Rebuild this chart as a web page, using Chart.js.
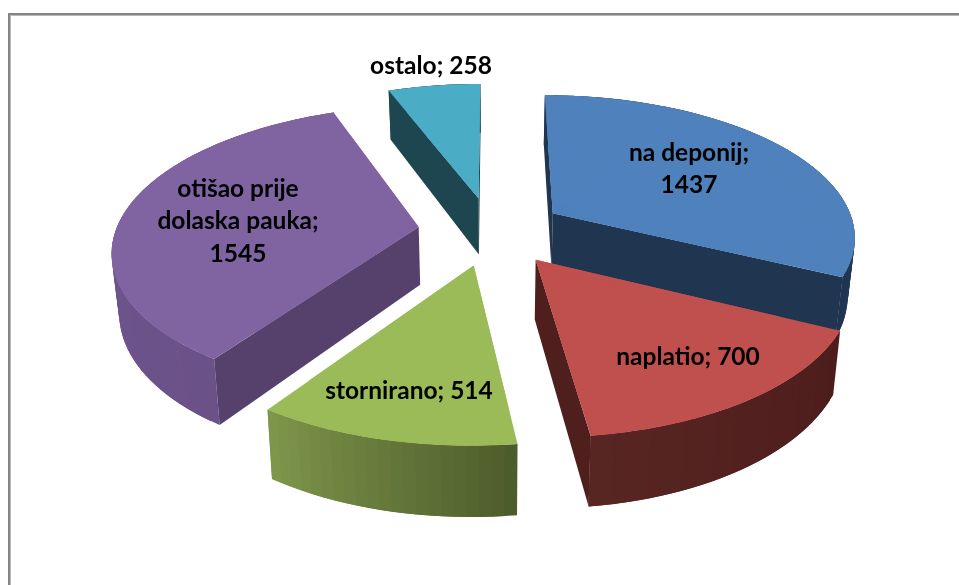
<!DOCTYPE html>
<html lang="hr"><head>
<meta charset="utf-8">
<title>Pie</title>
<script src="https://cdn.jsdelivr.net/npm/chart.js@4.4.3/dist/chart.umd.min.js"></script>
<style>
  *{box-sizing:border-box;margin:0;padding:0}
  html,body{width:959px;height:585px;overflow:hidden;background:#fff}
  #frame{position:absolute;left:8px;top:13px;width:1000px;height:700px;border-top:2px solid #858585;border-left:2px solid #858585}
  #frame div{width:100%;height:100%;border-top:1px solid #b8b8b8;border-left:1px solid #b8b8b8}
  canvas{position:absolute;left:0;top:0}
</style>
</head><body>
<div id="frame"><div></div></div>
<canvas id="c" width="959" height="585"></canvas>
<script>
const categories = ['na deponij', 'naplatio', 'stornirano', 'otišao prije dolaska pauka', 'ostalo']
const values = [1437, 700, 514, 1545, 258]

const topColors = ['#4F81BD', '#C0504D', '#9BBB59', '#8064A2', '#4BACC6']
const cutColors = ['#1F3550', '#4F1F1E', '#4E5E2C', '#56416D', '#1E4650']
// rim shade at the start and end angle of each slice
const rimColors = [['#2f5080', '#1F3550'], ['#4C1D1C', '#582522'], ['#4C5B2B', '#7F974B'], ['#6A5187', '#735895'], ['#1E4650', '#1E4650']]

// label centre of first line, wrap width
const labelSpots = [[689, 153, 130], [688, 357, 200], [409, 391, 200], [238, 189, 180], [431, 66, 200]]
const LINE_H = 32.5

// camera for the tilted pie plane, in units of the pie radius
const view = { cx: 491.5, cy: 231, sx: 303, sy: 141, persp: 0.152, depth: 58, taper: 0.98, explode: 0.243 }

function project(x, y) {
  const w = 1 - view.persp * y
  return { x: view.cx + view.sx * x / w, y: view.cy + view.sy * y / w, d: view.depth / w }
}

function hex(c) {
  return [1, 3, 5].map(i => parseInt(c.slice(i, i + 2), 16))
}

function mix(a, b, t) {
  const pa = hex(a), pb = hex(b)
  return 'rgb(' + pa.map((v, i) => Math.round(v + (pb[i] - v) * t)).join(',') + ')'
}

function quad(ctx, pts, color) {
  ctx.beginPath()
  pts.forEach((p, i) => i ? ctx.lineTo(p.x, p.y) : ctx.moveTo(p.x, p.y))
  ctx.closePath()
  ctx.fillStyle = color
  ctx.fill()
}

// draw part of an arc element so that it lands on the three projected points
function drawWedge(ctx, arc, opts, apex, a, b, p, q, scale, last) {
  const R = arc.outerRadius
  const ax = R * Math.cos(a), ay = R * Math.sin(a), bx = R * Math.cos(b), by = R * Math.sin(b)
  const det = ax * by - bx * ay
  const m11 = ((p.x - apex.x) * by - (q.x - apex.x) * ay) / det
  const m12 = ((q.x - apex.x) * ax - (p.x - apex.x) * bx) / det
  const m21 = ((p.y - apex.y) * by - (q.y - apex.y) * ay) / det
  const m22 = ((q.y - apex.y) * ax - (p.y - apex.y) * bx) / det

  const part = Object.create(arc)
  part.startAngle = a
  part.endAngle = last
  part.circumference = last - a
  part.outerRadius = R * scale
  part.options = opts
  ctx.save()
  ctx.transform(m11, m21, m12, m22, apex.x - m11 * arc.x - m12 * arc.y, apex.y - m21 * arc.x - m22 * arc.y)
  part.draw(ctx)
  ctx.restore()
}

function drawSlice(ctx, arc, i) {
  const start = arc.startAngle, end = arc.endAngle
  const mid = (start + end) / 2
  const ox = view.explode * Math.cos(mid), oy = view.explode * Math.sin(mid)
  const onRim = a => project(ox + Math.cos(a), oy + Math.sin(a))
  const down = p => ({ x: view.cx + (p.x - view.cx) * view.taper, y: p.y + p.d })
  const apex = project(ox, oy)

  // outer wall, every band runs a little under the next one
  const wallSteps = Math.ceil((end - start) / (Math.PI / 90))
  for (let s = 0; s < wallSteps; s++) {
    const a = start + (end - start) * s / wallSteps
    const b = Math.min(end, start + (end - start) * (s + 2) / wallSteps)
    const p = onRim(a), q = onRim(b)
    quad(ctx, [p, q, down(q), down(p)], mix(rimColors[i][0], rimColors[i][1], (s + 0.5) / wallSteps))
  }

  // cut faces, only the ones turned to the viewer
  const inner = onRim(mid)
  ;[start, end].forEach(a => {
    const p = onRim(a)
    const dx = p.x - apex.x, dy = p.y - apex.y
    const side = dx * (inner.y - apex.y) - dy * (inner.x - apex.x)
    if (side * dx < 0) quad(ctx, [apex, p, down(p), down(apex)], cutColors[i])
  })

  // top face: the library's own arc, in thin wedges so the perspective holds
  const opts = Object.assign({}, arc.options, { backgroundColor: topColors[i], borderColor: topColors[i], borderWidth: 0 })
  drawWedge(ctx, arc, opts, apex, start, end, onRim(start), onRim(end), 0.8, end)
  const topSteps = Math.ceil((end - start) / (Math.PI / 60))
  for (let s = 0; s < topSteps; s++) {
    const a = start + (end - start) * s / topSteps
    const b = start + (end - start) * (s + 1) / topSteps
    drawWedge(ctx, arc, opts, apex, a, b, onRim(a), onRim(b), 1, Math.min(end, b + 0.01))
  }
}

function wrap(ctx, text, width) {
  const rows = []
  let row = ''
  text.split(' ').forEach(word => {
    const next = row ? row + ' ' + word : word
    if (ctx.measureText(next).width > width && row) {
      rows.push(row)
      row = word
    } else row = next
  })
  rows.push(row)
  return rows
}

const pie3d = {
  id: 'pie3d',
  beforeDatasetDraw(chart, args) {
    const ctx = chart.ctx
    args.meta.data.forEach((arc, i) => drawSlice(ctx, arc, i))
    return false
  },
  afterDatasetsDraw(chart) {
    const ctx = chart.ctx
    ctx.save()
    ctx.font = 'bold 24.5px Lato, sans-serif'
    ctx.fillStyle = '#000'
    ctx.textAlign = 'center'
    ctx.textBaseline = 'middle'
    categories.forEach((cat, i) => {
      const [x, y, w] = labelSpots[i]
      wrap(ctx, cat + '; ' + values[i], w).forEach((row, r) => ctx.fillText(row, x, y + r * LINE_H))
    })
    ctx.restore()
  }
}

new Chart(document.getElementById('c'), {
  type: 'pie',
  data: { labels: categories, datasets: [{ data: values, backgroundColor: topColors, borderWidth: 0 }] },
  options: {
    responsive: false,
    animation: false,
    plugins: { legend: { display: false }, tooltip: { enabled: false } }
  },
  plugins: [pie3d]
})
</script>
</body></html>
